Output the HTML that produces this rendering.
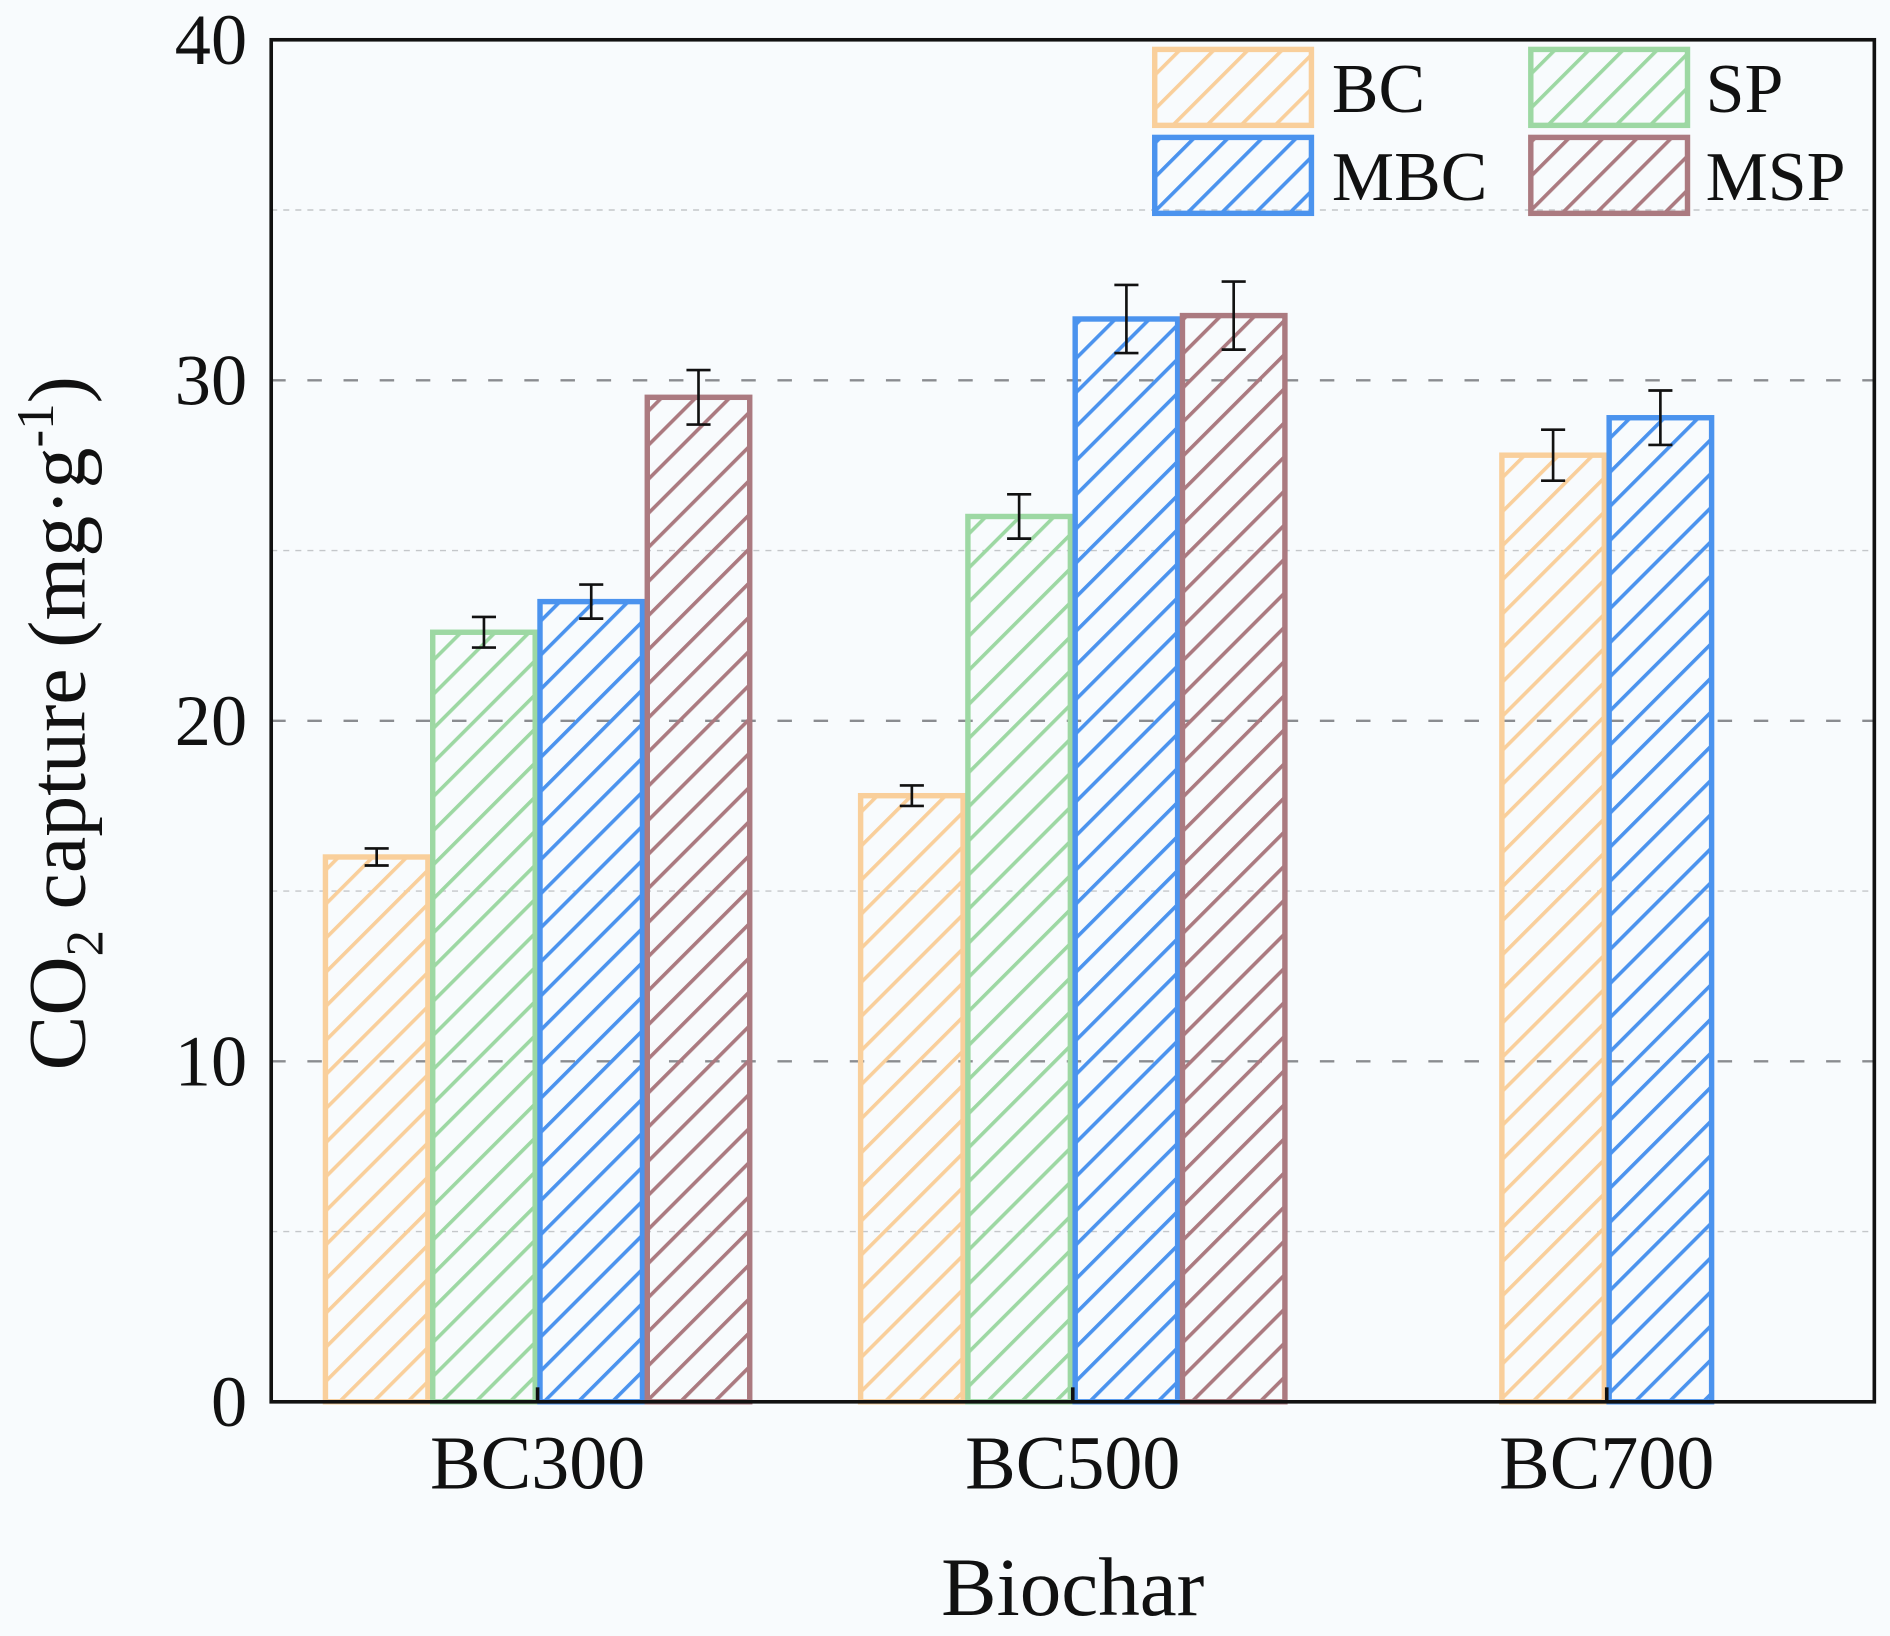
<!DOCTYPE html>
<html><head><meta charset="utf-8"><style>
html,body{margin:0;padding:0;background:#f8fbfd;}
svg{display:block;font-family:"Liberation Serif",serif;}
</style></head><body>
<svg id="chart" width="1890" height="1636" viewBox="0 0 1568 1357.3" preserveAspectRatio="none" xmlns="http://www.w3.org/2000/svg">
<defs>
<pattern id="h-bc" patternUnits="userSpaceOnUse" width="20" height="20" patternTransform="rotate(45)"><line x1="0" y1="0" x2="0" y2="20" stroke="#f9cf9b" stroke-width="6"/></pattern>
<pattern id="h-sp" patternUnits="userSpaceOnUse" width="20" height="20" patternTransform="rotate(45)"><line x1="0" y1="0" x2="0" y2="20" stroke="#9dd8a3" stroke-width="6"/></pattern>
<pattern id="h-mbc" patternUnits="userSpaceOnUse" width="20" height="20" patternTransform="rotate(45)"><line x1="0" y1="0" x2="0" y2="20" stroke="#4b93ee" stroke-width="6"/></pattern>
<pattern id="h-msp" patternUnits="userSpaceOnUse" width="20" height="20" patternTransform="rotate(45)"><line x1="0" y1="0" x2="0" y2="20" stroke="#ab7a80" stroke-width="6"/></pattern>
</defs>
<g id="grid"></g><g id="bars"></g><g id="errs"></g><g id="axes"></g><g id="legend"></g>
</svg>
<script>
const categories = ["BC300","BC500","BC700"];
const seriesNames = ["BC","SP","MBC","MSP"];
const valBC = [16.0, 17.8, 27.8];
const valSP = [22.6, 26.0, null];
const valMBC = [23.5, 31.8, 28.9];
const valMSP = [29.5, 31.9, null];
const errBC = [0.25, 0.3, 0.75];
const errSP = [0.45, 0.65, null];
const errMBC = [0.5, 1.0, 0.8];
const errMSP = [0.8, 1.0, null];
const yTicks = [0,10,20,30,40];

const NS="http://www.w3.org/2000/svg";
const X0=225,X1=1555,Y0=1163,Y1=33;
const y=v=>Y0-(v/40)*(Y0-Y1);
const catX=[446,890,1333];
const BW=89;
const colors={BC:"#f9cf9b",SP:"#9dd8a3",MBC:"#4b93ee",MSP:"#ab7a80"};
const pats={BC:"url(#h-bc)",SP:"url(#h-sp)",MBC:"url(#h-mbc)",MSP:"url(#h-msp)"};
const vals={BC:valBC,SP:valSP,MBC:valMBC,MSP:valMSP};
const errs={BC:errBC,SP:errSP,MBC:errMBC,MSP:errMSP};
function mk(tag,attrs,parent){const e=document.createElementNS(NS,tag);for(const k in attrs)e.setAttribute(k,attrs[k]);parent.appendChild(e);return e;}
const G=document.getElementById('grid'),B=document.getElementById('bars'),E=document.getElementById('errs'),A=document.getElementById('axes'),L=document.getElementById('legend');
for(let v=5;v<40;v+=5){
  const major=v%10===0;
  const ln=mk('line',{x1:X0,x2:X1,y1:y(v),y2:y(v),stroke:major?'#8a8c90':'#c4c7ca','stroke-width':major?2:1.2,'stroke-dasharray':major?'12,18':'5,5'},G);
  
  
}
categories.forEach((c,i)=>{
  const present=seriesNames.filter(s=>vals[s][i]!=null);
  const start=catX[i]-present.length*BW/2;
  present.forEach((s,j)=>{
    const v=vals[s][i];const x=start+j*BW;
    const r=mk('rect',{x:x+2,y:y(v),width:BW-4,height:Y0-y(v),fill:pats[s],stroke:colors[s],'stroke-width':4.5},B);
    
    
    const e=errs[s][i],cx=x+BW/2;
    const g=mk('g',{stroke:'#111','stroke-width':2.2},E);
    
    
    mk('line',{x1:cx,x2:cx,y1:y(v+e),y2:y(v-e)},g);
    mk('line',{x1:cx-10,x2:cx+10,y1:y(v+e),y2:y(v+e)},g);
    mk('line',{x1:cx-10,x2:cx+10,y1:y(v-e),y2:y(v-e)},g);
  });
  const t=mk('text',{x:catX[i],y:1235,'text-anchor':'middle','font-size':63,fill:'#111'},A);
  t.textContent=c;
  
  
  const tk=mk('line',{x1:catX[i],x2:catX[i],y1:Y0,y2:Y0-12,stroke:'#111','stroke-width':3},A);
  
  
});
const frame=mk('rect',{x:X0,y:Y1,width:X1-X0,height:Y0-Y1,fill:'none',stroke:'#111','stroke-width':3},A);


yTicks.forEach(v=>{
  const t=mk('text',{x:205,y:y(v)+20,'text-anchor':'end','font-size':60,fill:'#111'},A);
  t.textContent=v;
  
  
});
const xt=mk('text',{x:890,y:1340,'text-anchor':'middle','font-size':69,fill:'#111'},A);
xt.textContent='Biochar';


const yt=mk('text',{x:0,y:0,'text-anchor':'middle','font-size':68,fill:'#111',transform:'translate(70,600) rotate(-90)'},A);
yt.innerHTML='CO<tspan font-size="44" dy="15">2</tspan><tspan dy="-15"> capture (mg·g</tspan><tspan font-size="44" dy="-26">-1</tspan><tspan dy="26">)</tspan>';


const leg=[["BC",958,41,1105],["SP",1270,41,1415],["MBC",958,114,1105],["MSP",1270,114,1415]];
leg.forEach(([s,x,yy,tx])=>{
  const g=mk('g',{},L);
  
  
  mk('rect',{x:x,y:yy,width:130,height:63,fill:pats[s],stroke:colors[s],'stroke-width':4.5},g);
  const t=mk('text',{x:tx,y:yy+52,'font-size':58,fill:'#111'},g);
  t.textContent=s;
});
</script>
</body></html>
